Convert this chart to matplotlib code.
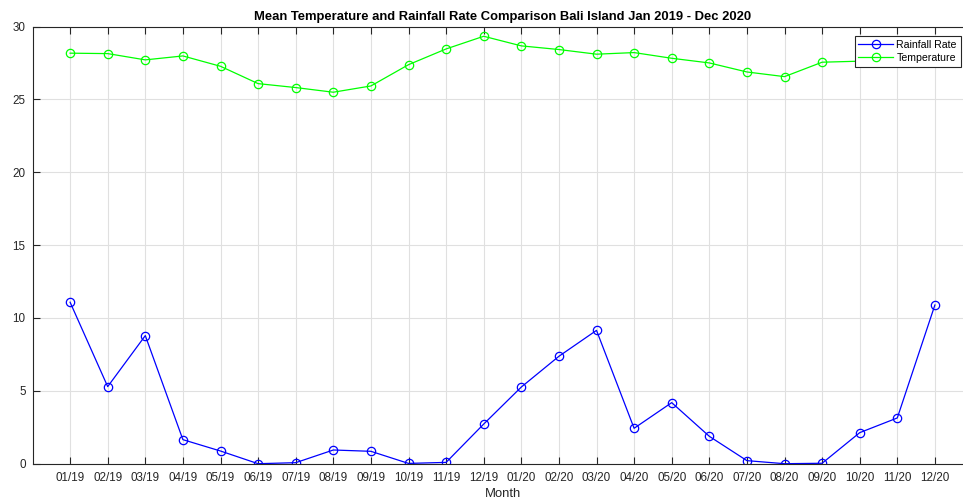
import numpy as np
import matplotlib
matplotlib.use("Agg")
import matplotlib.pyplot as plt

plt.rcParams["font.family"] = ["Liberation Sans", "DejaVu Sans"]

months = ["01/19","02/19","03/19","04/19","05/19","06/19","07/19","08/19",
          "09/19","10/19","11/19","12/19","01/20","02/20","03/20","04/20",
          "05/20","06/20","07/20","08/20","09/20","10/20","11/20","12/20"]

rainfall = [11.08, 5.29, 8.79, 1.65, 0.87, 0.0, 0.07, 0.94, 0.85, 0.02, 0.09, 2.72,
            5.26, 7.37, 9.15, 2.43, 4.19, 1.88, 0.21, 0.0, 0.03, 2.13, 3.14, 10.89]

temperature = [28.17, 28.14, 27.71, 27.98, 27.27, 26.08, 25.81, 25.49, 25.92, 27.38, 28.46, 29.33,
               28.67, 28.42, 28.10, 28.21, 27.82, 27.50, 26.88, 26.56, 27.55, 27.62, 27.80, 28.20]

x = np.arange(1, len(months) + 1)
axcol = "#262626"

fig = plt.figure(figsize=(9.63, 5.04), dpi=100)
ax = fig.add_axes([32.5/963, 40.3/504, 940/963, 437.2/504])

ax.plot(x, rainfall, color=(0, 0, 1), lw=0.9, marker="o", ms=6,
        mfc="none", mew=0.9, label="Rainfall Rate")
ax.plot(x, temperature, color=(0, 1, 0), lw=0.9, marker="o", ms=6,
        mfc="none", mew=0.9, label="Temperature")

ax.set_xlim(0, 25)
ax.set_ylim(0, 30)
ax.set_xticks(x)
ax.set_xticklabels(months)
ax.set_yticks([0, 5, 10, 15, 20, 25, 30])

ax.grid(True, color="#e0e0e0", lw=0.8)
ax.set_axisbelow(True)
for side in ("left", "bottom", "top"):
    ax.spines[side].set_color(axcol)
    ax.spines[side].set_linewidth(0.8)
ax.spines["right"].set_visible(False)
ax.tick_params(direction="in", length=5, width=0.8, color=axcol,
               labelsize=8.4, labelcolor=axcol, top=True)
ax.tick_params(axis="x", pad=6)
ax.tick_params(axis="y", pad=5)

ax.set_xlabel("Month", fontsize=9.4, color=axcol, labelpad=3)
ax.set_title("Mean Temperature and Rainfall Rate Comparison Bali Island Jan 2019 - Dec 2020",
             fontsize=9.4, fontweight="bold", color="black", pad=5)

leg = ax.legend(loc="upper right", fontsize=7.6, frameon=True,
                fancybox=False, framealpha=1, edgecolor=axcol,
                borderpad=0.35, labelspacing=0.3, handlelength=3.3,
                handletextpad=0.3, borderaxespad=0)
leg.get_frame().set_linewidth(0.8)
leg.set_bbox_to_anchor((960.5/963, (504 - 36)/504), transform=fig.transFigure)

fig.savefig("out.png", dpi=100)
